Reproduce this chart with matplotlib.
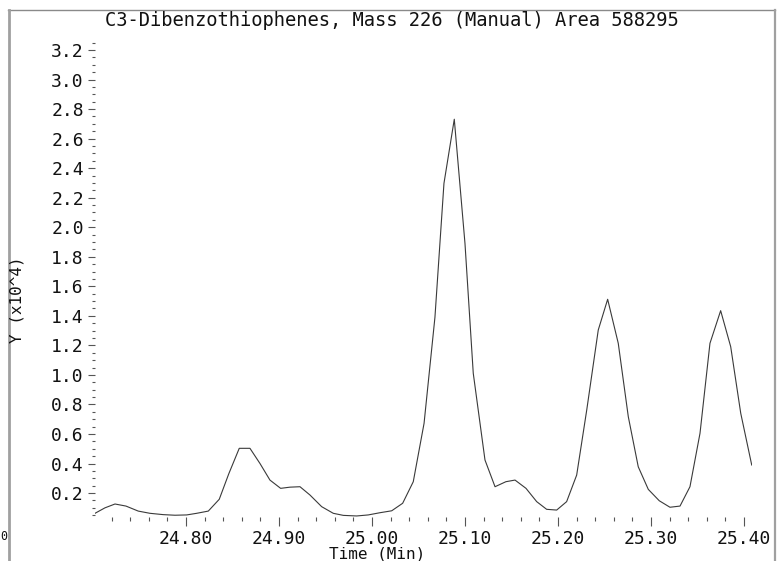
import matplotlib
matplotlib.use("Agg")
import matplotlib.pyplot as plt
from matplotlib.lines import Line2D
from matplotlib.ticker import MultipleLocator, FormatStrFormatter, FixedLocator

# ---- data ----
time_min = [24.7022, 24.7129, 24.7237, 24.7355, 24.7487, 24.7613, 24.7756, 24.7882,
            24.8008, 24.8115, 24.8240, 24.8358, 24.8460, 24.8573, 24.8688, 24.8796,
            24.8903, 24.9018, 24.9118, 24.9226, 24.9333, 24.9459, 24.9584, 24.9692,
            24.9835, 24.9960, 25.0086, 25.0212, 25.0330, 25.0444, 25.0560, 25.0677,
            25.0774, 25.0885, 25.1000, 25.1089, 25.1215, 25.1323, 25.1440, 25.1538,
            25.1656, 25.1771, 25.1878, 25.1986, 25.2093, 25.2201, 25.2309, 25.2433,
            25.2534, 25.2648, 25.2756, 25.2863, 25.2971, 25.3089, 25.3204, 25.3312,
            25.3419, 25.3527, 25.3634, 25.3749, 25.3857, 25.3965, 25.4083]
intensity_e4 = [0.063, 0.100, 0.126, 0.112, 0.078, 0.063, 0.054, 0.050,
                0.052, 0.063, 0.078, 0.158, 0.330, 0.503, 0.503, 0.400,
                0.288, 0.232, 0.240, 0.243, 0.187, 0.108, 0.063, 0.049,
                0.045, 0.052, 0.067, 0.080, 0.131, 0.277, 0.672, 1.390,
                2.297, 2.731, 1.890, 1.011, 0.424, 0.243, 0.277, 0.288,
                0.232, 0.142, 0.090, 0.085, 0.142, 0.322, 0.762, 1.304,
                1.512, 1.214, 0.717, 0.378, 0.225, 0.148, 0.104, 0.112,
                0.243, 0.605, 1.214, 1.435, 1.191, 0.740, 0.390]
x_major_ticks = [24.80, 24.90, 25.00, 25.10, 25.20, 25.30, 25.40]
title_text = "C3-Dibenzothiophenes, Mass 226 (Manual) Area 588295"
x_label = "Time (Min)"
y_label = "Y (x10^4)"

# ---- figure ----
W, H = 783, 561
plt.rcParams['font.family'] = ['DejaVu Sans Mono', 'DejaVu Sans']
fig = plt.figure(figsize=(W / 100, H / 100), dpi=100)
fig.patch.set_facecolor('white')

def fx(px):
    return px / W

def fy(py):
    return 1 - py / H

ax = fig.add_axes([fx(95), fy(517), fx(752) - fx(95), fy(38) - fy(517)])
ax.plot(time_min, intensity_e4, color='#3a3a3a', lw=0.8)
ax.set_xlim(24.7022, 25.4086)
ax.set_ylim(0.038, 3.281)

for s in ax.spines.values():
    s.set_visible(False)

ax.xaxis.set_major_locator(FixedLocator(x_major_ticks))
ax.xaxis.set_minor_locator(MultipleLocator(0.02))
ax.xaxis.set_major_formatter(FormatStrFormatter('%.2f'))
ax.yaxis.set_major_locator(MultipleLocator(0.2))
ax.yaxis.set_minor_locator(MultipleLocator(0.05))
ax.yaxis.set_major_formatter(FormatStrFormatter('%.1f'))

ax.tick_params(axis='x', which='major', direction='out', length=6.2, width=0.8,
               color='#555555', labelsize=13, pad=3, labelcolor='#111111')
ax.tick_params(axis='x', which='minor', direction='out', length=3.0, width=0.8,
               color='#555555')
ax.tick_params(axis='y', which='major', direction='out', length=5.0, width=0.8,
               color='#555555', labelsize=13, pad=3, labelcolor='#111111')
ax.tick_params(axis='y', which='minor', direction='out', length=2.4, width=0.8,
               color='#555555')

# title and axis labels
fig.text(fx(392), fy(21), title_text, ha='center', va='center', fontsize=13.5,
         color='#111111')
fig.text(fx(377), fy(554), x_label, ha='center', va='center', fontsize=11.5,
         color='#111111')
fig.text(fx(17), fy(300), y_label, ha='center', va='center', fontsize=11.5,
         rotation=90, color='#111111')
fig.text(fx(0.5), fy(537), "0", ha='left', va='center', fontsize=8.5, color='#111111')

# frame lines
fig.add_artist(Line2D([fx(8), fx(775)], [fy(10), fy(10)], color='#8a8a8a', lw=1.0,
                      transform=fig.transFigure))
fig.add_artist(Line2D([fx(8.5), fx(8.5)], [fy(10), fy(561)], color='#a0a0a0', lw=2.0,
                      transform=fig.transFigure))
fig.add_artist(Line2D([fx(775), fx(775)], [fy(10), fy(561)], color='#a0a0a0', lw=1.6,
                      transform=fig.transFigure))

fig.savefig("out.png", dpi=100)
